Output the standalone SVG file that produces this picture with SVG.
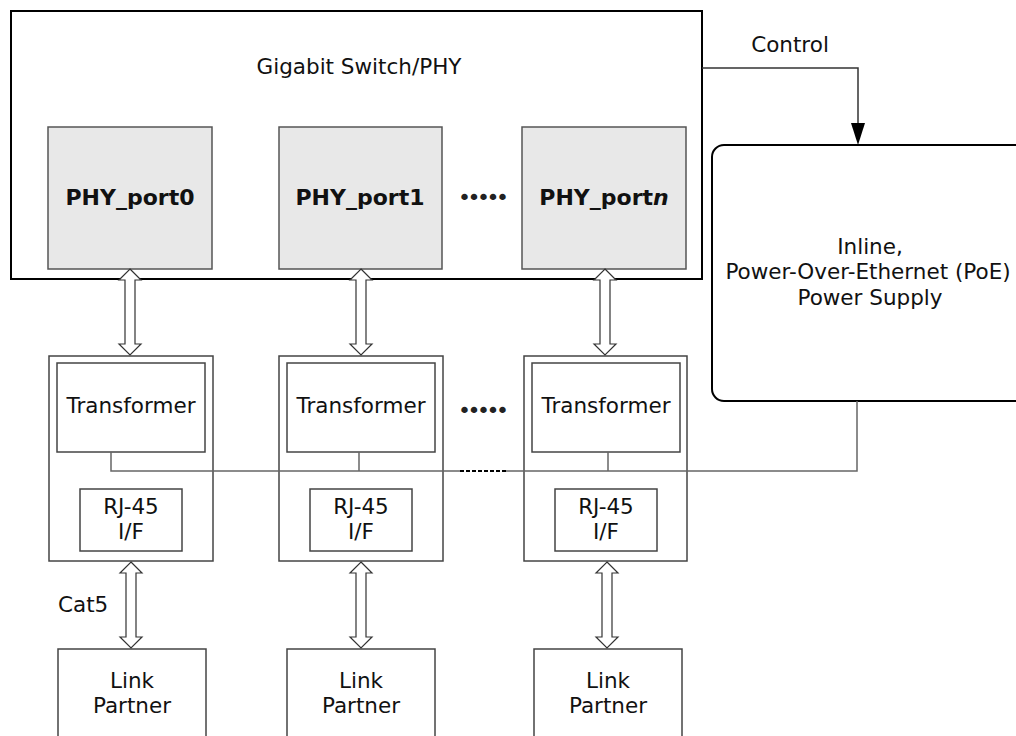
<svg xmlns="http://www.w3.org/2000/svg" width="1016" height="736" viewBox="0 0 1016 736">
<style>
text{font-family:"DejaVu Sans","Verdana",sans-serif;font-size:21.5px;fill:#111;text-anchor:middle}
.b{font-weight:bold;font-size:22px}
.dots{font-size:22px;fill:#222;text-anchor:start;letter-spacing:-3.5px}
.box{fill:#fff;stroke:#444;stroke-width:1.5}
.phy{fill:#e8e8e8;stroke:#555;stroke-width:1.5}
.heavy{fill:#fff;stroke:#000;stroke-width:2}
.ln{fill:none;stroke:#666;stroke-width:1.5}
.dbl{fill:#fff;stroke:#333;stroke-width:1.2;stroke-linejoin:miter}
</style>
<rect width="1016" height="736" fill="#fff"/>
<g id="switch">
<rect class="heavy" x="11" y="11" width="691" height="268"/>
<text x="359" y="74">Gigabit Switch/PHY</text>
</g>
<g id="phy_port0"><rect class="phy" x="48" y="127" width="164" height="142"/><text class="b" x="130" y="205">PHY_port0</text></g>
<g id="phy_port1"><rect class="phy" x="279" y="127" width="163" height="142"/><text class="b" x="360" y="205">PHY_port1</text></g>
<g id="phy_portn"><rect class="phy" x="522" y="127" width="164" height="142"/><text class="b" x="604" y="205">PHY_port<tspan font-style="italic">n</tspan></text></g>
<g id="dots_top"><text class="dots" x="458" y="205">•••••</text></g>
<g id="poe">
<rect class="heavy" x="712" y="145" width="400" height="256" rx="12"/>
<text x="870" y="254">Inline,</text>
<text x="868" y="279">Power-Over-Ethernet (PoE)</text>
<text x="870" y="305">Power Supply</text>
</g>
<g id="module0">
<rect class="box" x="49" y="356" width="164" height="205"/>
<rect class="box" x="57" y="363" width="148" height="89"/>
<text x="131" y="413">Transformer</text>
<rect class="box" x="80" y="489" width="102" height="62"/>
<text x="131" y="514">RJ-45</text><text x="131" y="539">I/F</text>
</g>
<g id="module1">
<rect class="box" x="279" y="356" width="164" height="205"/>
<rect class="box" x="287" y="363" width="148" height="89"/>
<text x="361" y="413">Transformer</text>
<rect class="box" x="310" y="489" width="102" height="62"/>
<text x="361" y="514">RJ-45</text><text x="361" y="539">I/F</text>
</g>
<g id="modulen">
<rect class="box" x="524" y="356" width="163" height="205"/>
<rect class="box" x="532" y="363" width="148" height="89"/>
<text x="606" y="413">Transformer</text>
<rect class="box" x="555" y="489" width="102" height="62"/>
<text x="606" y="514">RJ-45</text><text x="606" y="539">I/F</text>
</g>
<g id="dots_mid"><text class="dots" x="458" y="418">•••••</text></g>
<g id="partner0"><rect class="box" x="58" y="649" width="148" height="100"/><text x="132" y="688">Link</text><text x="132" y="713">Partner</text></g>
<g id="partner1"><rect class="box" x="287" y="649" width="148" height="100"/><text x="361" y="688">Link</text><text x="361" y="713">Partner</text></g>
<g id="partnern"><rect class="box" x="534" y="649" width="148" height="100"/><text x="608" y="688">Link</text><text x="608" y="713">Partner</text></g>
<g id="connectors">
<polyline fill="none" stroke="#333" stroke-width="1.5" points="702,68 858,68 858,124"/>
<polygon points="851,123 865,123 858,145" fill="#000"/>
<text x="790" y="52">Control</text>
<polyline class="ln" points="111,452 111,471 460,471"/>
<polyline class="ln" points="506,471 857,471 857,401"/>
<line x1="460" y1="471" x2="506" y2="471" stroke="#000" stroke-width="2" stroke-dasharray="4,2"/>
<line class="ln" x1="359" y1="452" x2="359" y2="471"/>
<line class="ln" x1="608" y1="452" x2="608" y2="471"/>
<path class="dbl" d="M130,269 L141,280 L135,280 L135,344 L141,344 L130,355 L119,344 L125,344 L125,280 L119,280 Z"/>
<path class="dbl" d="M361,269 L372,280 L366,280 L366,344 L372,344 L361,355 L350,344 L356,344 L356,280 L350,280 Z"/>
<path class="dbl" d="M605,269 L616,280 L610,280 L610,344 L616,344 L605,355 L594,344 L600,344 L600,280 L594,280 Z"/>
<path class="dbl" d="M131,562 L142,573 L136,573 L136,637 L142,637 L131,648 L120,637 L126,637 L126,573 L120,573 Z"/>
<path class="dbl" d="M361,562 L372,573 L366,573 L366,637 L372,637 L361,648 L350,637 L356,637 L356,573 L350,573 Z"/>
<path class="dbl" d="M607,562 L618,573 L612,573 L612,637 L618,637 L607,648 L596,637 L602,637 L602,573 L596,573 Z"/>
<text x="58" y="612" style="text-anchor:start">Cat5</text>
</g>
</svg>
